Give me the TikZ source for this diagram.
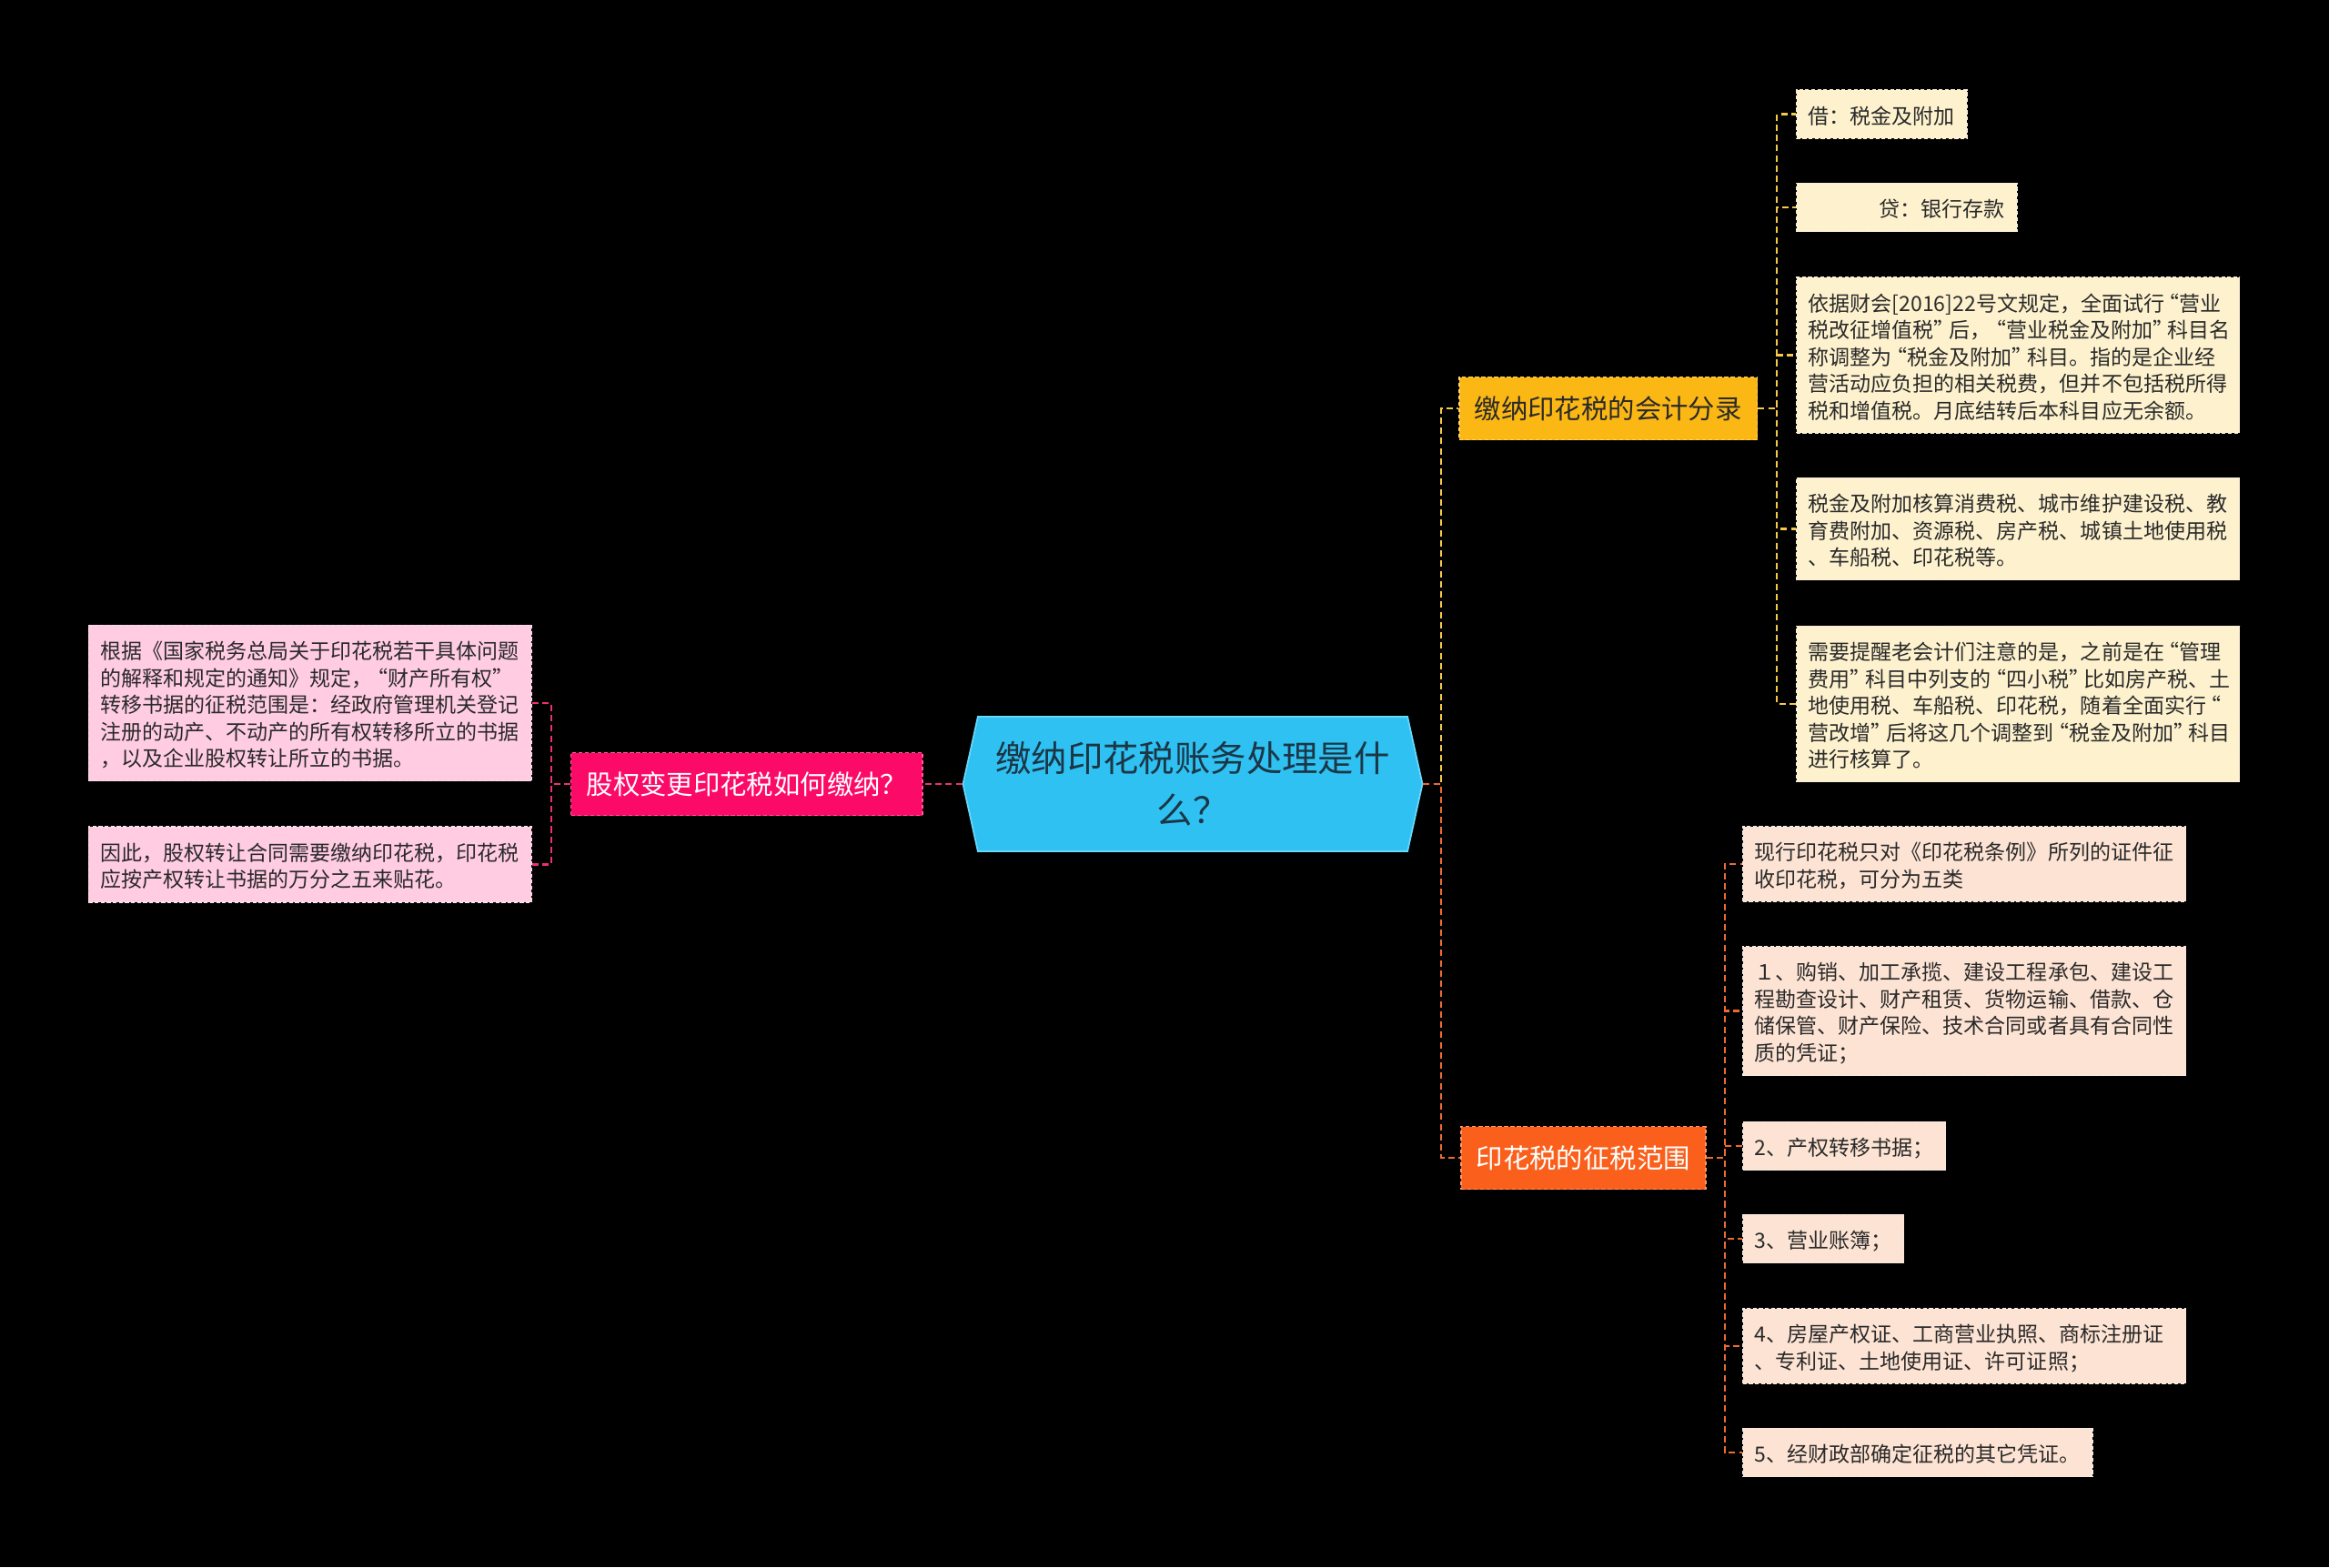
\documentclass[tikz,border=0pt]{standalone}
\usepackage{fontspec}
\setmainfont{Noto Sans CJK SC}
\usetikzlibrary{shapes.symbols}

\definecolor{rootblue}{HTML}{2EC1F2}
\definecolor{rootedge}{HTML}{6AD6F8}
\definecolor{roottext}{HTML}{1C3645}
\definecolor{pinkmain}{HTML}{FC0A68}
\definecolor{pinkedge}{HTML}{FF5C98}
\definecolor{pinkleaf}{HTML}{FFCCE1}
\definecolor{pinkleafedge}{HTML}{F3E3EA}
\definecolor{pinkline}{HTML}{E8336F}
\definecolor{goldmain}{HTML}{FBB714}
\definecolor{goldedge}{HTML}{FFD46A}
\definecolor{goldleaf}{HTML}{FEF2CE}
\definecolor{goldleafedge}{HTML}{F6EEDC}
\definecolor{goldline}{HTML}{F6C948}
\definecolor{rustmain}{HTML}{FA601C}
\definecolor{rustedge}{HTML}{FF9A68}
\definecolor{rustleaf}{HTML}{FDE3D3}
\definecolor{rustleafedge}{HTML}{F5ECE6}
\definecolor{rustline}{HTML}{EE6A30}
\definecolor{leaftext}{HTML}{2A2A2A}

% narrow curly quotes
\newcommand{\qo}{\kern-0.28em“}
\newcommand{\qc}{”\kern-0.28em}
\newcommand{\leafstrut}{\rule[-1.2pt]{0pt}{8.4pt}}

\begin{document}
\begin{tikzpicture}[
  x=1cm,
  y=-1cm,
  centre/.style={
    shape=signal,
    signal to=west and east,
    signal pointer angle=155,
    fill=rootblue,
    draw=rootedge,
    line width=0.5pt,
    minimum width=5.05cm,
    minimum height=1.48cm,
    text width=4.45cm,
    align=center,
    inner sep=0pt,
    text=roottext,
    font=\fontsize{11.2}{16.2}\selectfont
  },
  topic/.style={
    draw,
    dash pattern=on 1.2pt off 0.8pt,
    line width=0.45pt,
    minimum height=0.69cm,
    inner xsep=0.17cm,
    inner ysep=0pt,
    font=\fontsize{8.36}{10}\selectfont
  },
  detail/.style={
    draw,
    dash pattern=on 1.2pt off 0.7pt,
    line width=0.4pt,
    inner xsep=0.13cm,
    inner ysep=3.4pt,
    align=left,
    text=leaftext,
    font=\fontsize{6.55}{8.4}\selectfont,
    execute at begin node=\leafstrut,
    execute at end node=\leafstrut
  },
  wide/.style={detail, text width=4.61cm},
  link/.style={dash pattern=on 2pt off 1.2pt, line width=0.6pt}
]

\fill[black] (0,0) rectangle (25.6,17.23);
\useasboundingbox (0,0) rectangle (25.6,17.23);

% ---------------------------------------------------------------------------
% centre
% ---------------------------------------------------------------------------
\node[centre] (root) at (13.11,8.62) {缴纳印花税账务处理是什\\么？};

% ---------------------------------------------------------------------------
% left branch
% ---------------------------------------------------------------------------
\node[topic, fill=pinkmain, draw=pinkedge, text=white, anchor=east] (equity) at (10.15,8.62) {股权变更印花税如何缴纳？};
\node[wide, fill=pinkleaf, draw=pinkleafedge, anchor=east] (equityA) at (5.85,7.73)
  {根据《国家税务总局关于印花税若干具体问题\\的解释和规定的通知》规定，\qo 财产所有权\qc\\转移书据的征税范围是：经政府管理机关登记\\注册的动产、不动产的所有权转移所立的书据\\，以及企业股权转让所立的书据。};
\node[wide, fill=pinkleaf, draw=pinkleafedge, anchor=east] (equityB) at (5.85,9.505)
  {因此，股权转让合同需要缴纳印花税，印花税\\应按产权转让书据的万分之五来贴花。};

\draw[link, pinkline] (root.west) -- (equity.east);
\draw[link, pinkline] (equity.west) -- ++(-0.21,0) |- (equityA.east);
\draw[link, pinkline] (equity.west) -- ++(-0.21,0) |- (equityB.east);

% ---------------------------------------------------------------------------
% right branch, upper: accounting entry
% ---------------------------------------------------------------------------
\node[topic, fill=goldmain, draw=goldedge, text=leaftext, anchor=west] (entry) at (16.03,4.49) {缴纳印花税的会计分录};
\node[detail, fill=goldleaf, draw=goldleafedge, anchor=west] (entryA) at (19.74,1.255) {借：税金及附加};
\node[detail, fill=goldleaf, draw=goldleafedge, anchor=west] (entryB) at (19.74,2.28) {\hspace*{0.78cm}贷：银行存款};
\node[wide, fill=goldleaf, draw=goldleafedge, anchor=west] (entryC) at (19.74,3.905)
  {依据财会[2016]22号文规定，全面试行\qo 营业\\税改征增值税\qc 后，\qo 营业税金及附加\qc 科目名\\称调整为\qo 税金及附加\qc 科目。指的是企业经\\营活动应负担的相关税费，但并不包括税所得\\税和增值税。月底结转后本科目应无余额。};
\node[wide, fill=goldleaf, draw=goldleafedge, anchor=west] (entryD) at (19.74,5.815)
  {税金及附加核算消费税、城市维护建设税、教\\育费附加、资源税、房产税、城镇土地使用税\\、车船税、印花税等。};
\node[wide, fill=goldleaf, draw=goldleafedge, anchor=west] (entryE) at (19.74,7.74)
  {需要提醒老会计们注意的是，之前是在\qo 管理\\费用\qc 科目中列支的\qo 四小税\qc 比如房产税、土\\地使用税、车船税、印花税，随着全面实行\qo\\营改增\qc 后将这几个调整到\qo 税金及附加\qc 科目\\进行核算了。};

\draw[link, goldline] (root.east) -- ++(0.2,0) |- (entry.west);
\draw[link, goldline] (entry.east) -- ++(0.21,0) |- (entryA.west);
\draw[link, goldline] (entry.east) -- ++(0.21,0) |- (entryB.west);
\draw[link, goldline] (entry.east) -- ++(0.21,0) |- (entryC.west);
\draw[link, goldline] (entry.east) -- ++(0.21,0) |- (entryD.west);
\draw[link, goldline] (entry.east) -- ++(0.21,0) |- (entryE.west);

% ---------------------------------------------------------------------------
% right branch, lower: taxable scope
% ---------------------------------------------------------------------------
\node[topic, fill=rustmain, draw=rustedge, text=white, anchor=west] (range) at (16.05,12.73) {印花税的征税范围};
\node[wide, fill=rustleaf, draw=rustleafedge, anchor=west] (rangeA) at (19.15,9.50)
  {现行印花税只对《印花税条例》所列的证件征\\收印花税，可分为五类};
\node[wide, fill=rustleaf, draw=rustleafedge, anchor=west] (rangeB) at (19.15,11.115)
  {１、购销、加工承揽、建设工程承包、建设工\\程勘查设计、财产租赁、货物运输、借款、仓\\储保管、财产保险、技术合同或者具有合同性\\质的凭证；};
\node[detail, fill=rustleaf, draw=rustleafedge, anchor=west] (rangeC) at (19.15,12.60) {2、产权转移书据；};
\node[detail, fill=rustleaf, draw=rustleafedge, anchor=west] (rangeD) at (19.15,13.62) {3、营业账簿；};
\node[wide, fill=rustleaf, draw=rustleafedge, anchor=west] (rangeE) at (19.15,14.80)
  {4、房屋产权证、工商营业执照、商标注册证\\、专利证、土地使用证、许可证照；};
\node[detail, fill=rustleaf, draw=rustleafedge, anchor=west] (rangeF) at (19.15,15.97) {5、经财政部确定征税的其它凭证。};

\draw[link, rustline] (root.east) -- ++(0.2,0) |- (range.west);
\draw[link, rustline] (range.east) -- ++(0.2,0) |- (rangeA.west);
\draw[link, rustline] (range.east) -- ++(0.2,0) |- (rangeB.west);
\draw[link, rustline] (range.east) -- ++(0.2,0) |- (rangeC.west);
\draw[link, rustline] (range.east) -- ++(0.2,0) |- (rangeD.west);
\draw[link, rustline] (range.east) -- ++(0.2,0) |- (rangeE.west);
\draw[link, rustline] (range.east) -- ++(0.2,0) |- (rangeF.west);

\end{tikzpicture}
\end{document}
